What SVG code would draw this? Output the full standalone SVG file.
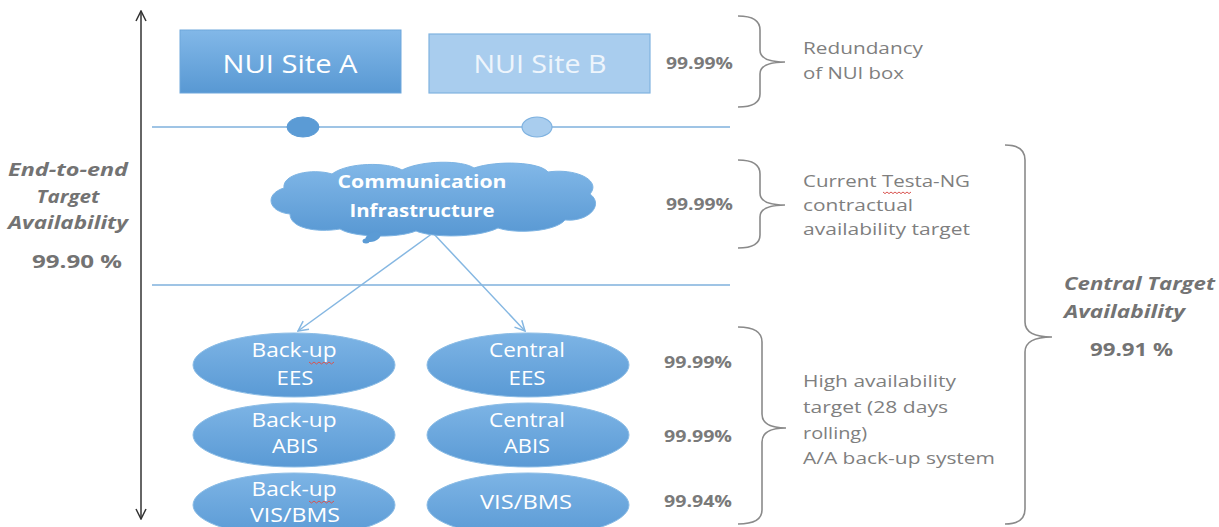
<svg xmlns="http://www.w3.org/2000/svg" width="1219" height="527" viewBox="0 0 1219 527">
<defs>
<linearGradient id="gBlue" x1="0" y1="0" x2="0" y2="1">
<stop offset="0" stop-color="#82b8e8"/>
<stop offset="1" stop-color="#5898d3"/>
</linearGradient>
<linearGradient id="gEll" x1="0" y1="0" x2="0" y2="1">
<stop offset="0" stop-color="#7db4e5"/>
<stop offset="1" stop-color="#5a9ad5"/>
</linearGradient>
<marker id="openArr" viewBox="0 0 12 12" refX="11" refY="6" markerWidth="12" markerHeight="12" markerUnits="userSpaceOnUse" orient="auto-start-reverse">
<path d="M1 1 L11 6 L1 11" fill="none" stroke="#333" stroke-width="1.5"/>
</marker>
<marker id="blueArr" viewBox="0 0 12 12" refX="11" refY="6" markerWidth="12" markerHeight="12" markerUnits="userSpaceOnUse" orient="auto">
<path d="M1 1 L11 6 L1 11" fill="none" stroke="#85b7e2" stroke-width="1.5"/>
</marker>
</defs>
<style>
.sep{stroke:#7fb0dc;stroke-width:1.5;fill:none}
.brace{stroke:#8a8a8a;stroke-width:1.6;fill:none}
.lbl{font-family:"Open Sans","Liberation Sans",sans-serif;fill:#7f7f7f;font-size:17px}
.pct{font-family:"Open Sans","Liberation Sans",sans-serif;fill:#7a7a7a;font-size:16px;font-weight:bold}
.big{font-family:"Open Sans","Liberation Sans",sans-serif;fill:#737373;font-size:18px;font-weight:bold;font-style:italic}
.bigp{font-family:"Open Sans","Liberation Sans",sans-serif;fill:#737373;font-size:18px;font-weight:bold}
.wt{font-family:"Open Sans","Liberation Sans",sans-serif;fill:#ffffff;font-size:20px;text-anchor:middle}
.ell{fill:url(#gEll);stroke:#8cbde6;stroke-width:1}
.squig{stroke:#d9534f;stroke-width:1;fill:none}
</style>
<rect width="1219" height="527" fill="#ffffff"/>

<g id="connectors">
<line x1="141" y1="11" x2="141" y2="519" stroke="#333" stroke-width="1.5" marker-start="url(#openArr)" marker-end="url(#openArr)"/>
<line class="sep" x1="152" y1="127" x2="730" y2="127"/>
<line class="sep" x1="152" y1="285" x2="730" y2="285"/>
<line x1="433" y1="233" x2="298" y2="331" stroke="#85b7e2" stroke-width="1.5" marker-end="url(#blueArr)"/>
<line x1="433" y1="233" x2="525" y2="331" stroke="#85b7e2" stroke-width="1.5" marker-end="url(#blueArr)"/>
</g>

<g id="nui-a">
<rect x="180" y="30" width="221" height="63" fill="url(#gBlue)" stroke="#6ea7dc" stroke-width="1"/>
<text x="290" y="73" class="wt" style="font-size:25px" textLength="135" lengthAdjust="spacingAndGlyphs">NUI Site A</text>
</g>
<g id="nui-b">
<rect x="429" y="34" width="221" height="59" fill="#a9cdee" stroke="#80b3e0" stroke-width="1.2"/>
<text x="540" y="73" class="wt" style="font-size:25px;fill:#eef5fc" textLength="133" lengthAdjust="spacingAndGlyphs">NUI Site B</text>
</g>
<g id="port-a"><ellipse cx="303" cy="127" rx="16" ry="10" fill="#5b9bd5" stroke="#5b9bd5"/></g>
<g id="port-b"><ellipse cx="537" cy="127" rx="15" ry="10" fill="#a9cdee" stroke="#7fb2e0" stroke-width="1.2"/></g>

<g id="cloud">
<path d="M290 214 C268 212 264 194 284 188 C282 174 312 168 332 174 C348 162 388 162 402 170 C422 160 462 160 474 168 C498 160 540 162 548 172 C575 168 602 180 590 194 C604 204 590 222 565 220 C555 232 515 234 498 228 C478 238 432 238 416 231 C396 239 352 237 340 229 C316 233 290 228 290 214 Z" fill="url(#gBlue)" stroke="#7cb3e3" stroke-width="1"/>
<ellipse cx="373" cy="237" rx="8" ry="4.5" transform="rotate(-20 373 237)" fill="#5b9bd5"/>
<ellipse cx="366" cy="241" rx="3.5" ry="2.5" fill="#5b9bd5"/>
<text x="422" y="188" class="wt" style="font-size:18px;font-weight:bold" textLength="169" lengthAdjust="spacingAndGlyphs">Communication</text>
<text x="422" y="217" class="wt" style="font-size:18px;font-weight:bold" textLength="145" lengthAdjust="spacingAndGlyphs">Infrastructure</text>
</g>

<g id="backup-ees">
<ellipse class="ell" cx="294" cy="365" rx="101" ry="32"/>
<text x="294" y="357" class="wt" textLength="85" lengthAdjust="spacingAndGlyphs">Back-up</text>
<path class="squig" d="M309 362 l2.5 2 l2.5 -2 l2.5 2 l2.5 -2 l2.5 2 l2.5 -2 l2.5 2 l2.5 -2 l2.5 2 l2.5 -2"/>
<text x="295" y="385" class="wt" textLength="37" lengthAdjust="spacingAndGlyphs">EES</text>
</g>
<g id="central-ees">
<ellipse class="ell" cx="528" cy="365" rx="101" ry="32"/>
<text x="527" y="357" class="wt" textLength="76" lengthAdjust="spacingAndGlyphs">Central</text>
<text x="527" y="385" class="wt" textLength="37" lengthAdjust="spacingAndGlyphs">EES</text>
</g>
<g id="backup-abis">
<ellipse class="ell" cx="294" cy="435" rx="101" ry="32"/>
<text x="294" y="427" class="wt" textLength="85" lengthAdjust="spacingAndGlyphs">Back-up</text>
<text x="295" y="453" class="wt" textLength="46" lengthAdjust="spacingAndGlyphs">ABIS</text>
</g>
<g id="central-abis">
<ellipse class="ell" cx="528" cy="435" rx="101" ry="32"/>
<text x="527" y="427" class="wt" textLength="76" lengthAdjust="spacingAndGlyphs">Central</text>
<text x="527" y="453" class="wt" textLength="46" lengthAdjust="spacingAndGlyphs">ABIS</text>
</g>
<g id="backup-vis">
<ellipse class="ell" cx="294" cy="505" rx="101" ry="32"/>
<text x="294" y="496" class="wt" textLength="85" lengthAdjust="spacingAndGlyphs">Back-up</text>
<path class="squig" d="M309 501 l2.5 2 l2.5 -2 l2.5 2 l2.5 -2 l2.5 2 l2.5 -2 l2.5 2 l2.5 -2 l2.5 2 l2.5 -2"/>
<text x="295" y="522" class="wt" textLength="90" lengthAdjust="spacingAndGlyphs">VIS/BMS</text>
</g>
<g id="central-vis">
<ellipse class="ell" cx="528" cy="505" rx="101" ry="32"/>
<text x="526" y="509" class="wt" textLength="92" lengthAdjust="spacingAndGlyphs">VIS/BMS</text>
</g>

<g id="percentages">
<text x="666" y="69" class="pct" textLength="67" lengthAdjust="spacingAndGlyphs">99.99%</text>
<text x="666" y="210" class="pct" textLength="67" lengthAdjust="spacingAndGlyphs">99.99%</text>
<text x="664" y="368" class="pct" textLength="68" lengthAdjust="spacingAndGlyphs">99.99%</text>
<text x="664" y="442" class="pct" textLength="68" lengthAdjust="spacingAndGlyphs">99.99%</text>
<text x="664" y="507" class="pct" textLength="68" lengthAdjust="spacingAndGlyphs">99.94%</text>
</g>

<g id="braces">
<path class="brace" d="M738 16 Q760 16 760 30 L760 50 Q760 62 785 62 Q760 62 760 74 L760 94 Q760 107 738 107"/>
<path class="brace" d="M738 160 Q760 160 760 174 L760 193 Q760 205 785 205 Q760 205 760 217 L760 235 Q760 248 738 248"/>
<path class="brace" d="M738 327 Q762 327 762 342 L762 414 Q762 428 786 428 Q762 428 762 442 L762 510 Q762 524 738 524"/>
<path class="brace" d="M1005 145 Q1025 145 1025 160 L1025 322 Q1025 337 1052 337 Q1025 337 1025 352 L1025 509 Q1025 524 1005 524"/>
</g>

<g id="notes">
<text x="803" y="54" class="lbl" textLength="120" lengthAdjust="spacingAndGlyphs">Redundancy</text>
<text x="803" y="79" class="lbl" textLength="101" lengthAdjust="spacingAndGlyphs">of NUI box</text>
<text x="803" y="187" class="lbl" textLength="167" lengthAdjust="spacingAndGlyphs">Current Testa-NG</text>
<path class="squig" d="M883 192 l2 1.6 l2 -1.6 l2 1.6 l2 -1.6 l2 1.6 l2 -1.6 l2 1.6 l2 -1.6 l2 1.6 l2 -1.6 l2 1.6 l2 -1.6 l2 1.6 l2 -1.6"/>
<text x="803" y="211" class="lbl" textLength="110" lengthAdjust="spacingAndGlyphs">contractual</text>
<text x="803" y="235" class="lbl" textLength="167" lengthAdjust="spacingAndGlyphs">availability target</text>
<text x="803" y="387" class="lbl" textLength="153" lengthAdjust="spacingAndGlyphs">High availability</text>
<text x="803" y="413" class="lbl" textLength="145" lengthAdjust="spacingAndGlyphs">target (28 days</text>
<text x="803" y="439" class="lbl" textLength="64" lengthAdjust="spacingAndGlyphs">rolling)</text>
<text x="803" y="464" class="lbl" textLength="192" lengthAdjust="spacingAndGlyphs">A/A back-up system</text>
</g>

<g id="central-target">
<text x="1064" y="290" class="big" textLength="151" lengthAdjust="spacingAndGlyphs">Central Target</text>
<text x="1064" y="318" class="big" textLength="121" lengthAdjust="spacingAndGlyphs">Availability</text>
<text x="1090" y="356" class="bigp" textLength="83" lengthAdjust="spacingAndGlyphs">99.91 %</text>
</g>

<g id="end-to-end">
<text x="68" y="176" class="big" text-anchor="middle" textLength="120" lengthAdjust="spacingAndGlyphs">End-to-end</text>
<text x="68" y="203" class="big" text-anchor="middle" textLength="63" lengthAdjust="spacingAndGlyphs">Target</text>
<text x="68" y="229" class="big" text-anchor="middle" textLength="120" lengthAdjust="spacingAndGlyphs">Availability</text>
<text x="77" y="268" class="bigp" text-anchor="middle" textLength="90" lengthAdjust="spacingAndGlyphs">99.90 %</text>
</g>
</svg>
